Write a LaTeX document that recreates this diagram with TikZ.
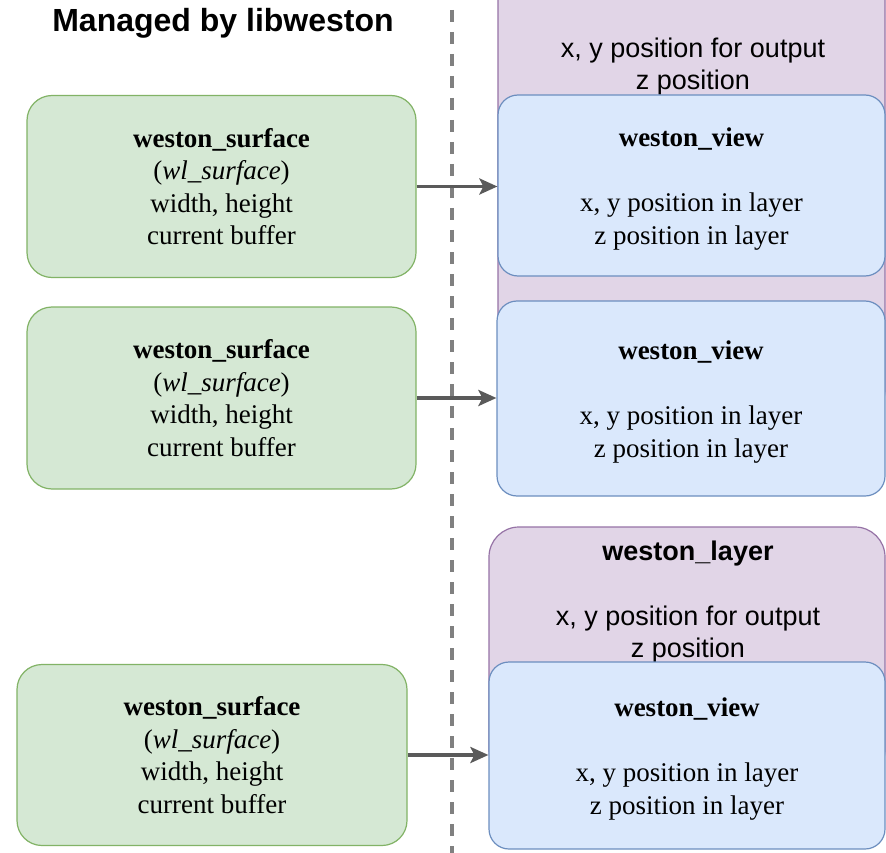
\documentclass[tikz,border=0pt]{standalone}
\usepackage{fontspec}
\setmainfont{Liberation Serif}
\setsansfont{Liberation Sans}
\usetikzlibrary{arrows.meta}
\definecolor{gfill}{HTML}{D5E8D4}
\definecolor{gline}{HTML}{82B366}
\definecolor{bfill}{HTML}{DAE8FC}
\definecolor{bline}{HTML}{6C8EBF}
\definecolor{pfill}{HTML}{E1D5E7}
\definecolor{pline}{HTML}{9673A6}
\definecolor{arrgray}{HTML}{5A5A5A}
\definecolor{dashgray}{HTML}{808080}
\begin{document}
\begin{tikzpicture}[x=1pt,y=-1pt,
 box/.style={draw, line width=1.2pt, inner sep=0pt, align=center, font=\fontsize{27}{32.5}\selectfont},
 surf/.style={box, fill=gfill, draw=gline, rounded corners=25pt},
 view/.style={box, fill=bfill, draw=bline, rounded corners=20pt},
 layer/.style={box, fill=pfill, draw=pline, rounded corners=30pt},
 ltext/.style={align=center, inner sep=0pt, font=\sffamily\fontsize{27}{32.5}\selectfont},
 link/.style={draw=arrgray, line width=3.5pt, -{Stealth[length=18pt,width=16pt,inset=4pt]}},
 divider/.style={draw=dashgray, line width=3.6pt, dash pattern=on 12pt off 10pt}
]
\clip (0,0) rectangle (886,853);
\fill[white] (0,0) rectangle (886,853);

% title
\node[anchor=base, inner sep=0pt, font=\sffamily\bfseries\fontsize{32}{38}\selectfont] (title) at (223,32) {Managed by libweston};

% divider
\coordinate (dtop) at (452,10);
\coordinate (dbot) at (452,853);
\draw[divider] (dtop) -- (dbot);

% layers
\node[layer, minimum width=387pt, minimum height=480pt] (layer1) at (691.5,180) {};
\node[ltext] (layer1txt) at (693,66.5) {x, y position for output\\z position};
\node[layer, minimum width=396pt, minimum height=253pt] (layer2) at (687,653.5) {};
\node[ltext] (layer2txt) at (688,602) {\textbf{weston\_layer}\\[32.5pt]x, y position for output\\z position};

% views
\node[view, minimum width=387pt, minimum height=181pt] (view1) at (691.5,185.5)
  {\rule{0pt}{25.5pt}\textbf{weston\_view}\\[32.5pt]x, y position in layer\\z position in layer};
\node[view, minimum width=388pt, minimum height=195pt] (view2) at (691,398.5)
  {\rule{0pt}{25.5pt}\textbf{weston\_view}\\[32.5pt]x, y position in layer\\z position in layer};
\node[view, minimum width=396pt, minimum height=187pt] (view3) at (687,755.5)
  {\rule{0pt}{25.5pt}\textbf{weston\_view}\\[32.5pt]x, y position in layer\\z position in layer};

% surfaces
\node[surf, minimum width=389pt, minimum height=182pt] (surf1) at (221.5,186.5)
  {\textbf{weston\_surface}\\(\textit{wl\_surface})\\width, height\\current buffer};
\node[surf, minimum width=389pt, minimum height=182pt] (surf2) at (221.5,398)
  {\textbf{weston\_surface}\\(\textit{wl\_surface})\\width, height\\current buffer};
\node[surf, minimum width=390pt, minimum height=181pt] (surf3) at (212,755)
  {\textbf{weston\_surface}\\(\textit{wl\_surface})\\width, height\\current buffer};

% connectors
\draw[link] (surf1.east) -- (surf1.east -| view1.west);
\draw[link] (surf2.east) -- (surf2.east -| view2.west);
\draw[link] (surf3.east) -- (surf3.east -| view3.west);
\end{tikzpicture}
\end{document}
